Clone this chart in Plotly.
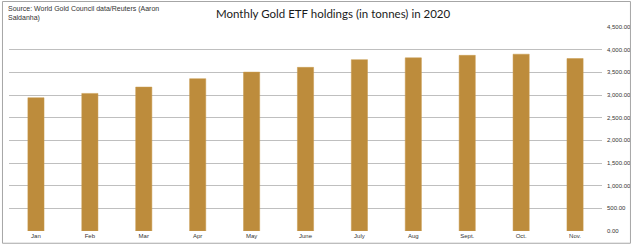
import plotly.graph_objects as go

months = ["Jan", "Feb", "Mar", "Apr", "May", "June", "July", "Aug", "Sept.", "Oct.", "Nov."]
holdings = [2940, 3035, 3175, 3360, 3505, 3610, 3780, 3820, 3875, 3900, 3805]
y_ticks = [0, 500, 1000, 1500, 2000, 2500, 3000, 3500, 4000, 4500]

fig = go.Figure(go.Bar(
    x=months, y=holdings,
    marker=dict(color="#bd8c3c", line=dict(color="#c99a4c", width=0.5)),
    width=0.3,
))

fig.update_layout(
    width=640, height=248,
    margin=dict(l=9, r=31, t=27, b=15),
    paper_bgcolor="white", plot_bgcolor="white",
    showlegend=False,
    font=dict(family="Liberation Sans, Arial, sans-serif", color="#222"),
    xaxis=dict(
        showgrid=False, zeroline=False, showline=False,
        ticks="", tickfont=dict(size=6, color="#333"),
        fixedrange=True,
    ),
    yaxis=dict(
        side="right", range=[0, 4500], tickvals=y_ticks,
        tickformat=",.2f", tickfont=dict(size=6, color="#333"),
        showgrid=True, gridcolor="#bfbfbf", gridwidth=1.3,
        zeroline=False, showline=False, ticks="", ticklabelstandoff=4,
        fixedrange=True,
    ),
    shapes=[dict(type="rect", xref="paper", yref="paper",
                 x0=-0.011, x1=1.048, y0=-0.06, y1=1.125,
                 line=dict(color="#a6a6a6", width=1))],
    annotations=[
        dict(text="Monthly Gold ETF holdings (in tonnes) in 2020",
             xref="paper", yref="paper", x=0.548, y=1.0, yshift=14,
             xanchor="center", yanchor="middle", showarrow=False,
             font=dict(size=11.5, color="#1a1a1a", family="Lato, sans-serif")),
        dict(text="Source: World Gold Council data/Reuters (Aaron<br>Saldanha)",
             xref="paper", yref="paper", x=0, y=1.0, xshift=-3, yshift=24,
             xanchor="left", yanchor="top", align="left", showarrow=False,
             font=dict(size=7, color="#333")),
    ],
)

fig.write_html("out.html")
